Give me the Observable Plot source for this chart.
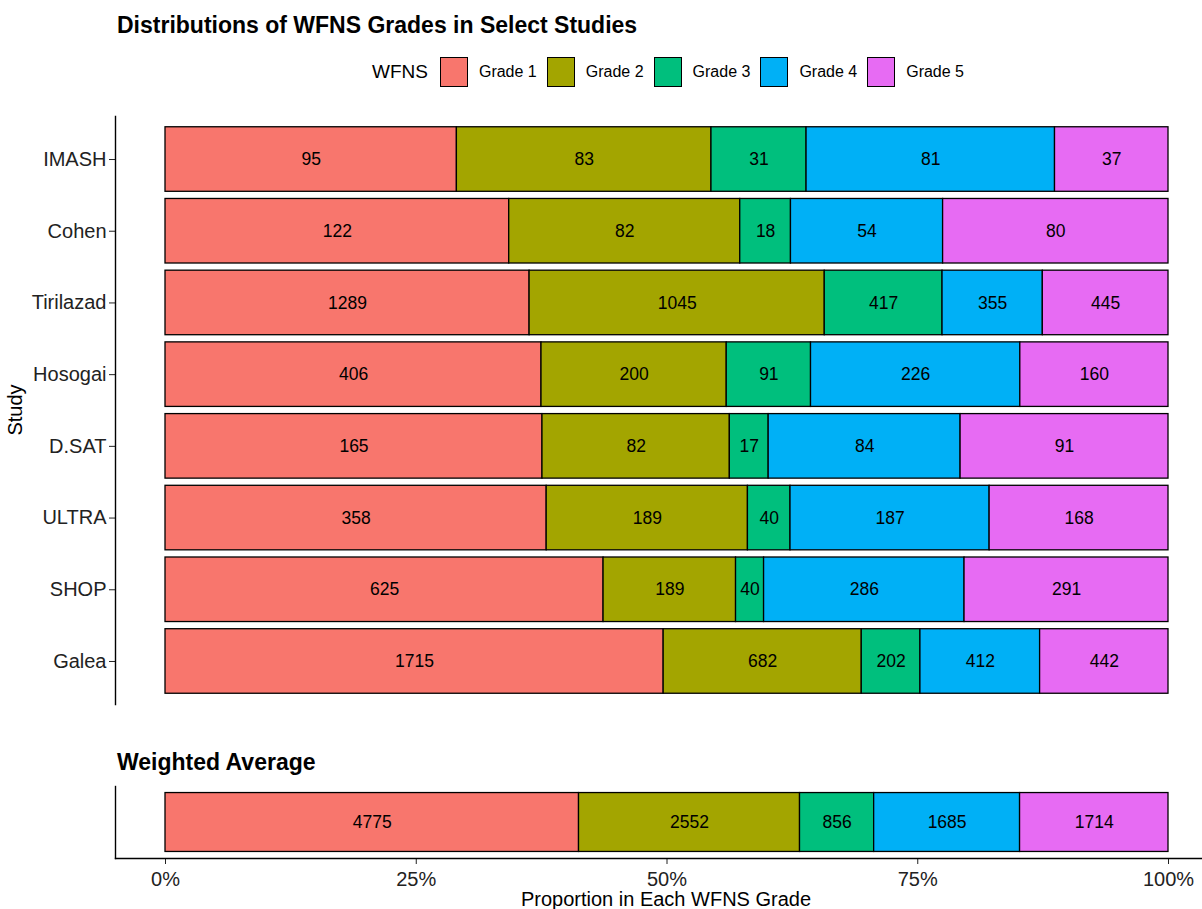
<!DOCTYPE html>
<html>
<head>
<meta charset="utf-8">
<script src="https://cdn.jsdelivr.net/npm/d3@7"></script>
<script src="https://cdn.jsdelivr.net/npm/@observablehq/plot@0.6"></script>
<style>
  body { margin: 0; background: #fff; font-family: "Liberation Sans", Arial, Helvetica, sans-serif; }
  #wrap { position: relative; width: 1202px; height: 909px; overflow: hidden; background: #fff; }
  .title { position: absolute; left: 117px; font-weight: bold; font-size: 23px; line-height: 26px; color: #000; white-space: nowrap; }
  #legend { position: absolute; left: 372px; top: 57px; height: 30px; display: flex; align-items: center; font-size: 16px; color: #000; white-space: nowrap; }
  #legend .lt { font-size: 19px; margin-right: 12px; }
  #legend .sw { width: 28px; height: 30px; border: 1.4px solid #000; box-sizing: border-box; margin-right: 11px; flex: none; }
  #legend .lab { margin-right: 10px; }
  .plot { position: absolute; left: 0; }
  .plot svg { overflow: visible; }
  #ylab { position: absolute; left: 15px; top: 410px; transform: translate(-50%, -50%) rotate(-90deg); font-size: 20px; color: #000; }
  #xlab { position: absolute; left: 666px; top: 888px; transform: translateX(-50%); font-size: 20px; line-height: 23px; color: #000; white-space: nowrap; }
</style>
</head>
<body>
<div id="wrap">
  <div class="title" style="top:12px">Distributions of WFNS Grades in Select Studies</div>
  <div id="legend"></div>
  <div id="top" class="plot" style="top:116px"></div>
  <div id="ylab">Study</div>
  <div class="title" style="top:749px">Weighted Average</div>
  <div id="bottom" class="plot" style="top:786px"></div>
  <div id="xlab">Proportion in Each WFNS Grade</div>
</div>
<script>
// ---- data ----
const studies = ["IMASH", "Cohen", "Tirilazad", "Hosogai", "D.SAT", "ULTRA", "SHOP", "Galea"];
const grades = ["Grade 1", "Grade 2", "Grade 3", "Grade 4", "Grade 5"];
const grade1 = [95, 122, 1289, 406, 165, 358, 625, 1715];
const grade2 = [83, 82, 1045, 200, 82, 189, 189, 682];
const grade3 = [31, 18, 417, 91, 17, 40, 40, 202];
const grade4 = [81, 54, 355, 226, 84, 187, 286, 412];
const grade5 = [37, 80, 445, 160, 91, 168, 291, 442];
const weighted = [4775, 2552, 856, 1685, 1714];
const xTicks = [0, 0.25, 0.5, 0.75, 1];
const colors = ["#F8766D", "#A3A500", "#00BF7D", "#00B0F6", "#E76BF3"];

// ---- build tables ----
const series = [grade1, grade2, grade3, grade4, grade5];
const rows = [];
studies.forEach((s, i) => {
  grades.forEach((g, j) => rows.push({study: s, grade: g, count: series[j][i]}));
});
const wrows = grades.map((g, j) => ({study: "Weighted Average", grade: g, count: weighted[j]}));

// legend
const leg = document.getElementById("legend");
leg.innerHTML = `<span class="lt">WFNS</span>` + grades.map((g, j) =>
  `<span class="sw" style="background:${colors[j]}"></span><span class="lab">${g}</span>`).join("");

const font = '"Liberation Sans", Arial, Helvetica, sans-serif';

function stacked(data) {
  return [
    Plot.barX(data, Plot.stackX({
      x: "count", y: "study", fill: "grade", z: "grade", offset: "normalize",
      stroke: "#000", strokeWidth: 1.3
    })),
    Plot.text(data, Plot.stackX({
      x: "count", y: "study", z: "grade", offset: "normalize",
      text: d => String(d.count), fill: "#000", fontSize: 17.5
    }))
  ];
}

const topPlot = Plot.plot({
  width: 1202, height: 588,
  marginLeft: 115, marginRight: 0, marginTop: 0, marginBottom: 0,
  style: {fontFamily: font, background: "transparent", overflow: "visible"},
  x: {domain: [0, 1], insetLeft: 50, insetRight: 34, axis: null},
  y: {domain: studies, paddingInner: 0.1, paddingOuter: 0.15, round: false, label: null},
  color: {domain: grades, range: colors},
  marks: [
    ...stacked(rows),
    Plot.axisY({tickSize: 6, tickPadding: 3, fontSize: 20, color: "#222", label: null}),
    Plot.frame({anchor: "left", stroke: "#000", strokeWidth: 1.4})
  ]
});
document.getElementById("top").appendChild(topPlot);

const botPlot = Plot.plot({
  width: 1202, height: 122,
  marginLeft: 115, marginRight: 0, marginTop: 0, marginBottom: 50,
  style: {fontFamily: font, background: "transparent", overflow: "visible"},
  x: {domain: [0, 1], insetLeft: 50, insetRight: 34},
  y: {domain: ["Weighted Average"], paddingInner: 0.1, paddingOuter: 0.1, round: false, axis: null},
  color: {domain: grades, range: colors},
  marks: [
    ...stacked(wrows),
    Plot.axisX({ticks: xTicks, tickFormat: d3.format(".0%"), tickSize: 6, tickPadding: 7, fontSize: 20, color: "#222", label: null}),
    Plot.frame({anchor: "left", stroke: "#000", strokeWidth: 1.4}),
    Plot.frame({anchor: "bottom", stroke: "#000", strokeWidth: 1.4})
  ]
});
document.getElementById("bottom").appendChild(botPlot);
</script>
</body>
</html>
